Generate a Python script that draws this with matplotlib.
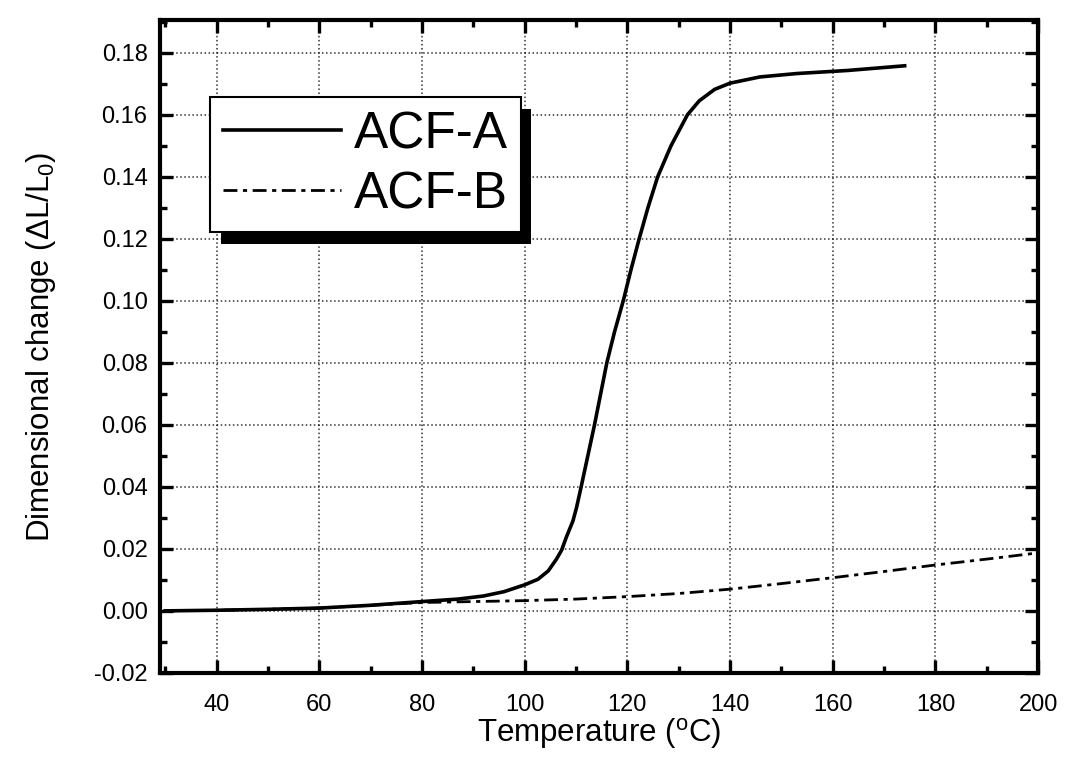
import matplotlib
matplotlib.use('Agg')
import matplotlib.pyplot as plt
import matplotlib.patheffects as pe
from matplotlib.ticker import MultipleLocator

plt.rcParams['font.family'] = ['Liberation Sans', 'DejaVu Sans']
plt.rcParams['mathtext.fontset'] = 'custom'
plt.rcParams['mathtext.rm'] = 'Liberation Sans'
plt.rcParams['mathtext.it'] = 'Liberation Sans'

# ACF-A dilatometer trace
temp_a = [30, 40, 50, 60, 70, 80, 87, 92, 96, 100, 102.6, 104.6, 106.2, 107.2,
          108.1, 109.4, 110.1, 111.0, 112.3, 113.6, 114.8, 116.0, 117.5, 119.2,
          120.7, 122.3, 124.0, 125.9, 128.5, 131.7, 134.0, 137.0, 140.0, 145.8,
          153, 163, 174.0]
dl_a = [0.0, 0.0002, 0.0005, 0.0009, 0.0018, 0.0030, 0.0038, 0.0048, 0.0062,
        0.0084, 0.0102, 0.0129, 0.0167, 0.0196, 0.0237, 0.029, 0.0333, 0.040,
        0.050, 0.060, 0.070, 0.080, 0.090, 0.100, 0.110, 0.120, 0.130, 0.140,
        0.150, 0.160, 0.1645, 0.1682, 0.1702, 0.1722, 0.1733, 0.1743, 0.1758]

# ACF-B dilatometer trace
temp_b = [30, 40, 50, 60, 70, 80, 90, 100, 110, 120, 130, 140, 150, 160, 170,
          180, 190, 200]
dl_b = [0.0, 0.0002, 0.0005, 0.0009, 0.0018, 0.0027, 0.0030, 0.0033, 0.0038,
        0.0046, 0.0056, 0.0070, 0.0088, 0.0107, 0.0127, 0.0148, 0.0167, 0.0187]

fig = plt.figure(figsize=(10.67, 7.77), dpi=100)
ax = fig.add_axes([0.150, 0.134, 0.823, 0.840])

ax.plot(temp_a, dl_a, color='black', lw=2.6, label='ACF-A')
ax.plot(temp_b, dl_b, color='black', lw=2.0, ls=(0, (5, 2, 1.5, 2)), label='ACF-B')

ax.set_xlim(29, 200)
ax.set_ylim(-0.02, 0.1905)
ax.xaxis.set_major_locator(MultipleLocator(20))
ax.xaxis.set_minor_locator(MultipleLocator(10))
ax.yaxis.set_major_locator(MultipleLocator(0.02))
ax.yaxis.set_minor_locator(MultipleLocator(0.01))
ax.yaxis.set_major_formatter(lambda v, p: f'{v:.2f}')

ax.tick_params(which='both', direction='in', top=True, right=True, labelsize=17)
ax.tick_params(which='major', length=9.5, width=2.4)
ax.tick_params(which='minor', length=5, width=2.4)
ax.tick_params(axis='x', pad=15)
ax.tick_params(axis='y', pad=9)
for s in ax.spines.values():
    s.set_linewidth(3)

ax.grid(True, which='major', ls=':', lw=1.1, color='black', alpha=0.8)

ax.set_xlabel(r'Temperature ($^{\mathrm{o}}$C)', fontsize=22.5, labelpad=0)
ax.set_ylabel(r'Dimensional change (ΔL/L$_0$)', fontsize=22.5, labelpad=26)

leg = ax.legend(loc='upper left', bbox_to_anchor=(0.057, 0.882), fontsize=37,
                frameon=True, fancybox=False, framealpha=1, edgecolor='black',
                handlelength=2.3, handletextpad=0.25, labelspacing=0.22,
                borderpad=0.25, borderaxespad=0)
frame = leg.get_frame()
frame.set_linewidth(1.5)
frame.set_path_effects([pe.SimplePatchShadow(offset=(7.5, -8.5), shadow_rgbFace='black', alpha=1),
                        pe.Normal()])

fig.savefig('out.png', dpi=100)
